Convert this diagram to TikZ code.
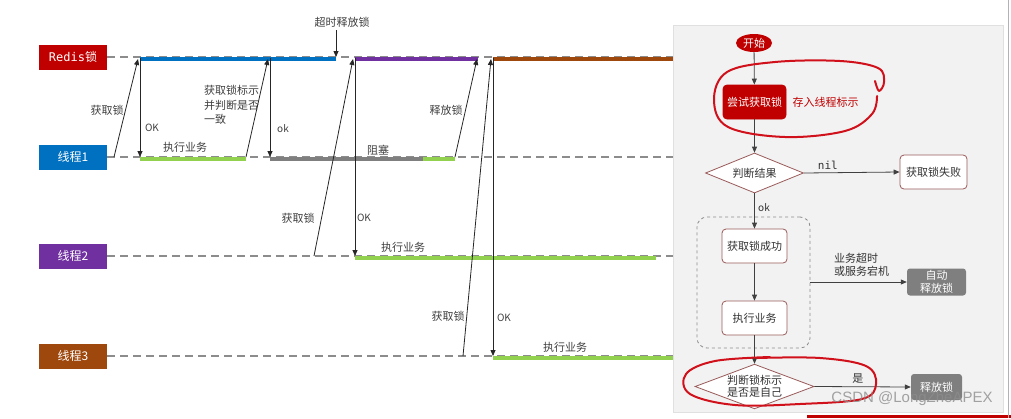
\documentclass[tikz,border=0pt]{standalone}
\usepackage{fontspec}
\setmainfont{Noto Sans CJK SC}
\newfontfamily\monof{DejaVu Sans Mono}
\newfontfamily\wmfont{Liberation Sans}
\usetikzlibrary{arrows.meta,shapes.geometric,calc}
\definecolor{rred}{HTML}{C00000}
\definecolor{tblue}{HTML}{0070C0}
\definecolor{tpurple}{HTML}{7030A0}
\definecolor{tbrown}{HTML}{9E480E}
\definecolor{tgreen}{HTML}{92D050}
\definecolor{tgray}{HTML}{7F7F7F}
\definecolor{panelbg}{HTML}{F2F2F2}
\definecolor{boxborder}{HTML}{9A5A5A}
\definecolor{txt}{HTML}{404040}
\definecolor{pen}{HTML}{D0101A}
\tikzset{
  lane/.style={minimum width=68pt, minimum height=25pt, text=white, inner sep=0pt, font=\fontsize{12}{12}\selectfont},
  dashline/.style={draw=black!45, dash pattern=on 8pt off 5pt, line width=1.3pt},
  seg/.style={line width=4pt},
  msg/.style={draw=black!85, line width=0.8pt, -{Triangle[width=5pt,length=6pt]}},
  lbl/.style={text=txt, inner sep=1pt, font=\fontsize{11}{13}\selectfont},
  small/.style={text=txt, inner sep=1pt, font=\fontsize{10}{12}\selectfont},
  fbox/.style={draw=boxborder, fill=white, rounded corners=4pt, line width=0.8pt, text=black!80, inner sep=0pt, font=\fontsize{11}{13}\selectfont},
  gbox/.style={fill=tgray, rounded corners=3pt, text=white, inner sep=0pt, align=center, font=\fontsize{11}{12.5}\selectfont},
  fdia/.style={diamond, draw=boxborder, fill=white, line width=0.8pt, inner sep=0pt, aspect=2.5, text=black!80, align=center, font=\fontsize{11}{13}\selectfont},
  flow/.style={draw=black!75, line width=0.8pt, -{Triangle[width=5pt,length=6pt]}},
  redpen/.style={draw=pen, line width=2pt, line cap=round, line join=round},
}
\begin{document}
\begin{tikzpicture}[x=1pt,y=-1pt]
\useasboundingbox (0,0) rectangle (1011,418);
\fill[white] (0,0) rectangle (1011,418);

% lane labels
\node[lane, fill=rred] (redis) at (73,57) {{\monof Redis}锁};
\node[lane, fill=tblue] (t1) at (73,157) {线程1};
\node[lane, fill=tpurple] (t2) at (73,256) {线程2};
\node[lane, fill=tbrown] (t3) at (73,356) {线程3};

\coordinate (rEnd) at (673,57);
\coordinate (e1) at (673,157);
\coordinate (e2) at (673,256);
\coordinate (e3) at (673,356);
\draw[dashline] (redis.east) -- (rEnd);
\draw[dashline] (t1.east) -- (e1);
\draw[dashline] (t2.east) -- (e2);
\draw[dashline] (t3.east) -- (e3);

% redis holders
\draw[seg, draw=tblue] (140,58.5) -- (336,58.5);
\draw[seg, draw=tpurple] (355,58.5) -- (478,58.5);
\draw[seg, draw=tbrown] (493,58.5) -- (673,58.5);

% thread 1 segments
\draw[seg, draw=tgreen] (140,158.5) -- (246,158.5);
\draw[seg, draw=tgray] (270,158.5) -- (423,158.5);
\draw[seg, draw=tgreen] (423,158.5) -- (455,158.5);
% thread 2
\draw[seg, draw=tgreen] (355,257.5) -- (656,257.5);
% thread 3
\draw[seg, draw=tgreen] (493,357.5) -- (673,357.5);

% coordinates on lines
\coordinate (a1s) at (114,157);
\coordinate (a1t) at (138,59);
\coordinate (r1) at (140,58);
\coordinate (r1b) at (140,157);
\coordinate (a2s) at (246,157);
\coordinate (a2t) at (268,59);
\coordinate (r2) at (270,58);
\coordinate (r2b) at (270,157);
\coordinate (a3s) at (455,157);
\coordinate (a3t) at (477,59);
\coordinate (toTop) at (336,30);
\coordinate (toBot) at (336,57);
\coordinate (b1s) at (314,256);
\coordinate (b1t) at (353,59);
\coordinate (r3) at (355,58);
\coordinate (r3b) at (355,256);
\coordinate (c1s) at (463,356);
\coordinate (c1t) at (491,59);
\coordinate (r4) at (493,58);
\coordinate (r4b) at (493,356);

\draw[msg] (a1s) -- (a1t);
\draw[msg] (r1) -- (r1b);
\draw[msg] (a2s) -- (a2t);
\draw[msg] (r2) -- (r2b);
\draw[msg] (a3s) -- (a3t);
\draw[msg] (toTop) -- (toBot);
\draw[msg] (b1s) -- (b1t);
\draw[msg] (r3) -- (r3b);
\draw[msg] (c1s) -- (c1t);
\draw[msg] (r4) -- (r4b);

% labels
\node[lbl] (l1) at (107,110) {获取锁};
\node[small] (l2) at (152,128) {OK};
\node[lbl] (l3) at (185,147) {执行业务};
\node[lbl, anchor=west, align=left, font=\fontsize{11}{14.5}\selectfont] (l4) at (203,105) {获取锁标示\\并判断是否\\一致};
\node[small] (l5) at (283,129) {ok};
\node[lbl] (l6) at (378,150) {阻塞};
\node[lbl] (l7) at (446,110) {释放锁};
\node[lbl] (l8) at (342,22) {超时释放锁};
\node[lbl] (l9) at (298,218) {获取锁};
\node[small] (l10) at (364,218) {OK};
\node[lbl] (l11) at (403,247) {执行业务};
\node[lbl] (l12) at (448,316) {获取锁};
\node[small] (l13) at (504,318) {OK};
\node[lbl] (l14) at (565,347) {执行业务};

% panel
\fill[panelbg, draw=black!12, line width=1pt] (673,25) rectangle (1003,412);

% flowchart
\node[ellipse, fill=rred, text=white, minimum width=36pt, minimum height=18pt, inner sep=0pt, font=\fontsize{11}{13}\selectfont] (start) at (754,43) {开始};
\node[fbox, fill=rred, draw=rred, text=white, minimum width=63pt, minimum height=34pt] (try) at (754.5,102) {尝试获取锁};
\node[text=rred, inner sep=0pt, font=\fontsize{11}{13}\selectfont] (store) at (825.5,102) {存入线程标示};
\node[fdia, minimum width=98pt, minimum height=40pt] (judge) at (754.5,173) {判断结果};
\node[fbox, minimum width=67pt, minimum height=34pt] (fail) at (933.5,172) {获取锁失败};
\node[draw=black!45, dashed, rounded corners=10pt, line width=0.8pt, minimum width=113pt, minimum height=131pt] (grp) at (753.5,282.5) {};
\node[fbox, minimum width=65pt, minimum height=34pt] (succ) at (754.5,246) {获取锁成功};
\node[fbox, minimum width=65pt, minimum height=34pt] (exec) at (754.5,318) {执行业务};
\node[gbox, minimum width=59pt, minimum height=27pt] (auto) at (936.5,282) {自动\\释放锁};
\node[fdia, minimum width=119pt, minimum height=43pt, font=\fontsize{11}{12.5}\selectfont] (judge2) at (754.5,386.5) {判断锁标示\\是否是自己};
\node[gbox, minimum width=51pt, minimum height=26pt] (rel) at (936.5,387) {释放锁};

\draw[flow] (start) -- (try);
\draw[flow] (try) -- (judge);
\draw[flow] (judge.east) -- node[above, pos=0.25, text=black!80, font=\monof\fontsize{11}{13}\selectfont] (nil) {nil} (fail.west);
\draw[flow] (judge.south) -- node[right, pos=0.4, text=black!80, font=\fontsize{10}{12}\selectfont] (okl) {ok} (succ.north);
\draw[flow] (succ) -- (exec);
\draw[flow] (exec) -- (judge2);
\draw[flow] (grp.east |- auto.west) -- (auto.west);
\node[anchor=west, align=left, text=black!80, inner sep=0pt, font=\fontsize{11}{13}\selectfont] (why) at (834,265) {业务超时\\或服务宕机};
\draw[flow] (judge2.east) -- node[above, pos=0.45, text=black!80, font=\fontsize{11}{13}\selectfont] (yes) {是} (rel.west);

% hand-drawn red marks
\draw[redpen] plot[smooth, tension=0.6] coordinates {(875,81) (879,91) (884,82) (878,68) (840,61) (775,62) (727,72) (714,100) (728,127) (785,137) (845,131) (872,114) (877,96)};
\draw[redpen] plot[smooth, tension=0.6] coordinates {(757,358) (820,358) (866,366) (876,384) (862,399) (800,404) (735,405) (690,394) (686,374) (715,361) (770,357)};

% watermark
\node[text=black!45, opacity=0.8, inner sep=0pt, font=\wmfont\fontsize{15}{15}\selectfont] (wm) at (912,399) {CSDN @LongZheAPEX};

% screenshot edges
\fill[rred] (807,415) rectangle (1011,418);
\draw[black!30, line width=1.5pt] (1008.5,0) -- (1008.5,418);
\end{tikzpicture}
\end{document}
